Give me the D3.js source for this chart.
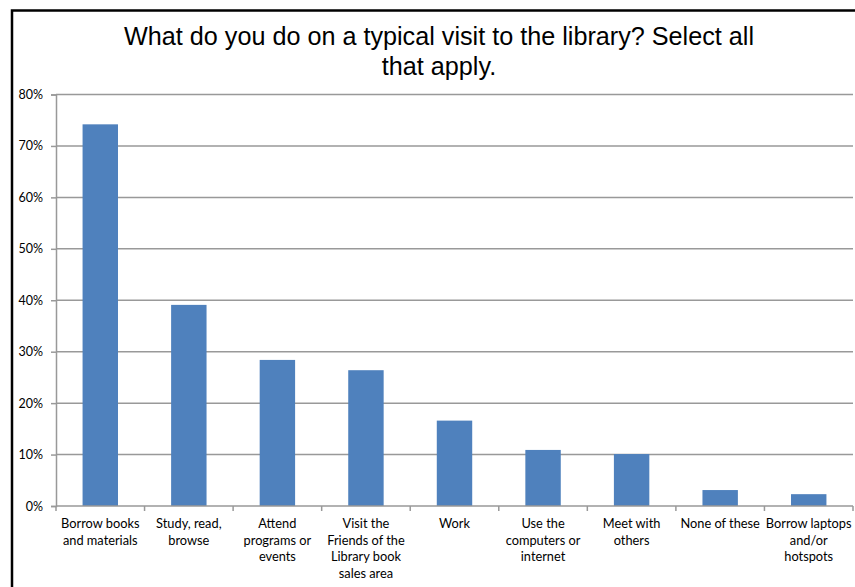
<!DOCTYPE html>
<html>
<head>
<meta charset="utf-8">
<script src="https://cdn.jsdelivr.net/npm/d3@7"></script>
<style>
  html, body { margin: 0; padding: 0; background: #fff; }
  svg { display: block; }
</style>
</head>
<body>
<svg id="chart" width="855" height="587"></svg>
<script>
// Survey responses: share of respondents choosing each activity
const categories = [
  "Borrow books\nand materials",
  "Study, read,\nbrowse",
  "Attend\nprograms or\nevents",
  "Visit the\nFriends of the\nLibrary book\nsales area",
  "Work",
  "Use the\ncomputers or\ninternet",
  "Meet with\nothers",
  "None of these",
  "Borrow laptops\nand/or\nhotspots"
];
const values = [0.742, 0.391, 0.284, 0.264, 0.166, 0.109, 0.101, 0.031, 0.023];
const yTicks = [0, 0.1, 0.2, 0.3, 0.4, 0.5, 0.6, 0.7, 0.8];
const titleLines = ["What do you do on a typical visit to the library? Select all", "that apply."];

const svg = d3.select("#chart");

// outer frame (runs off the right and bottom edges)
svg.append("rect")
  .attr("x", 12).attr("y", 10.5)
  .attr("width", 900).attr("height", 700)
  .attr("fill", "none").attr("stroke", "#000").attr("stroke-width", 2.5);

const plot = { left: 56, right: 853, top: 94.5, bottom: 506 };

const x = d3.scaleBand()
  .domain(categories)
  .range([plot.left, plot.right])
  .paddingInner(0.6).paddingOuter(0.3);

const y = d3.scaleLinear()
  .domain([0, 0.8])
  .range([plot.bottom, plot.top]);

// horizontal gridlines
svg.append("g")
  .selectAll("line")
  .data(yTicks.slice(1))
  .join("line")
  .attr("x1", plot.left).attr("x2", plot.right)
  .attr("y1", d => y(d)).attr("y2", d => y(d))
  .attr("stroke", "#999").attr("stroke-width", 1.5);

// bars
svg.append("g")
  .selectAll("rect")
  .data(values)
  .join("rect")
  .attr("x", (d, i) => x(categories[i]))
  .attr("y", d => y(d))
  .attr("width", x.bandwidth())
  .attr("height", d => y(0) - y(d))
  .attr("fill", "#4f81bd");

// y axis
const yAxis = svg.append("g")
  .attr("transform", `translate(${plot.left},0)`)
  .call(d3.axisLeft(y).tickValues(yTicks).tickFormat(d3.format(".0%")).tickSize(5).tickPadding(8));
yAxis.select(".domain").attr("stroke", "#999").attr("stroke-width", 1.5);
yAxis.selectAll(".tick line").attr("stroke", "#999").attr("stroke-width", 1.5);
yAxis.selectAll(".tick text")
  .attr("fill", "#000")
  .style("font-family", "Lato, 'Open Sans', sans-serif")
  .style("font-size", "12.5px");

// x axis: baseline with tick marks at category boundaries
const bounds = d3.range(categories.length + 1).map(i => plot.left + i * (plot.right - plot.left) / categories.length);
const xAxis = svg.append("g");
xAxis.append("line")
  .attr("x1", plot.left).attr("x2", plot.right)
  .attr("y1", y(0)).attr("y2", y(0))
  .attr("stroke", "#999").attr("stroke-width", 1.5);
xAxis.selectAll("line.tk")
  .data(bounds)
  .join("line")
  .attr("class", "tk")
  .attr("x1", d => d).attr("x2", d => d)
  .attr("y1", y(0)).attr("y2", y(0) + 5)
  .attr("stroke", "#999").attr("stroke-width", 1.5);

// category labels
const labels = xAxis.selectAll("text.cat")
  .data(categories)
  .join("text")
  .attr("class", "cat")
  .attr("text-anchor", "middle")
  .attr("fill", "#000")
  .style("font-family", "Lato, 'Open Sans', sans-serif")
  .style("font-size", "12.8px");
labels.each(function(d) {
  const cx = x(d) + x.bandwidth() / 2;
  d3.select(this).selectAll("tspan")
    .data(d.split("\n"))
    .join("tspan")
    .attr("x", cx)
    .attr("y", (l, j) => 528 + j * 16.7)
    .text(l => l);
});

// title
svg.append("text")
  .attr("text-anchor", "middle")
  .attr("fill", "#000")
  .style("font-family", "'Liberation Sans', Arial, sans-serif")
  .style("font-size", "25.2px")
  .selectAll("tspan")
  .data(titleLines)
  .join("tspan")
  .attr("x", 439)
  .attr("y", (d, i) => 45 + i * 30)
  .text(d => d);
</script>
</body>
</html>
